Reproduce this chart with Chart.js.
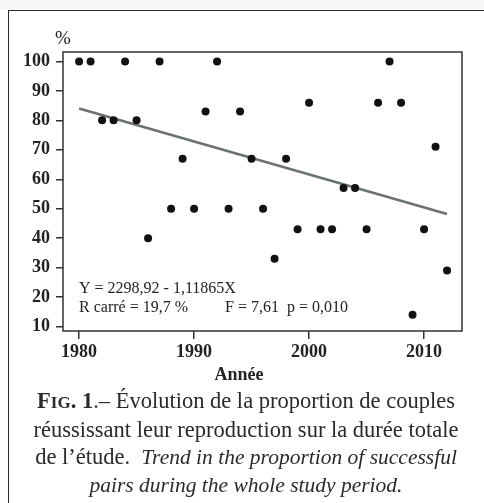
<!DOCTYPE html>
<html>
<head>
<meta charset="utf-8">
<script src="https://cdn.jsdelivr.net/npm/chart.js@4"></script>
<style>
  html, body { margin: 0; padding: 0; background: #fff; }
  body { width: 484px; height: 503px; position: relative; overflow: hidden; font-family: 'Liberation Serif', 'DejaVu Serif', serif; }
  #topstrip { position: absolute; left: 0; top: 0; width: 484px; height: 9px; background: #f6f6f6; }
  #frame { position: absolute; left: 8px; top: 10px; width: 500px; height: 520px; border: 1.5px solid #2a2a2a; box-sizing: border-box; }
  #c { position: absolute; left: 0; top: 0; }
  #caption { position: absolute; left: 9px; top: 387px; width: 474px; text-align: center; font-size: 22.5px; line-height: 27px; color: #2a2a2a; white-space: nowrap; }
  #caption i { font-size: 21.5px; }
  .sc { font-size: 17px; }
</style>
</head>
<body>
<div id="topstrip"></div>
<div id="frame"></div>
<canvas id="c" width="484" height="503"></canvas>
<div id="caption"><b>F<span class="sc">IG</span>. 1</b>.– Évolution de la proportion de couples<br>réussissant leur reproduction sur la durée totale<br>de l’étude.&nbsp; <i>Trend in the proportion of successful<br>pairs during the whole study period.</i></div>
<script>
// ---- data ----
const years = [1980,1981,1982,1983,1984,1985,1986,1987,1988,1989,1990,1991,1992,1993,1994,1995,1996,1997,1998,1999,2000,2001,2002,2003,2004,2005,2006,2007,2008,2009,2010,2011,2012];
const successPct = [100,100,80,80,100,80,40,100,50,67,50,83,100,50,83,67,50,33,67,43,86,43,43,57,57,43,86,100,86,14,43,71,29];
const fitYears = [1980, 2012];
const fitValues = [84.0, 48.2];
const yTicks = [10,20,30,40,50,60,70,80,90,100];
const xTicks = [1980,1990,2000,2010];
const yLabel = '%';
const xTitle = 'Année';
const annotLine1 = 'Y = 2298,92 - 1,11865X';
const annotLine2a = 'R carré = 19,7 %';
const annotLine2b = 'F = 7,61  p = 0,010';

const serif = "'Liberation Serif', 'DejaVu Serif', serif";
const axisColor = '#333';
const textColor = '#222';

const boxPlugin = {
  id: 'boxAndText',
  afterDraw(chart) {
    const { ctx, chartArea: a } = chart;
    ctx.save();
    ctx.strokeStyle = axisColor;
    ctx.lineWidth = 1.5;
    ctx.strokeRect(a.left, a.top, a.right - a.left, a.bottom - a.top);
    ctx.fillStyle = textColor;
    ctx.textBaseline = 'middle';
    ctx.font = '19px ' + serif;
    ctx.textAlign = 'center';
    ctx.fillText(yLabel, a.left, 39);
    ctx.font = 'bold 18px ' + serif;
    ctx.fillText(xTitle, 239, 375);
    ctx.font = '16px ' + serif;
    ctx.textAlign = 'left';
    ctx.fillText(annotLine1, a.left + 16, 289);
    ctx.fillText(annotLine2a, a.left + 16, 308);
    ctx.fillText(annotLine2b, a.left + 162, 308);
    ctx.restore();
  }
};

new Chart(document.getElementById('c'), {
  type: 'scatter',
  data: {
    datasets: [
      {
        type: 'scatter',
        data: years.map((y, i) => ({ x: y, y: successPct[i] })),
        backgroundColor: '#111',
        borderColor: '#111',
        pointRadius: 4,
        pointBorderWidth: 0,
        order: 0
      },
      {
        type: 'line',
        data: fitYears.map((y, i) => ({ x: y, y: fitValues[i] })),
        borderColor: '#6b7272',
        borderWidth: 2.5,
        pointRadius: 0,
        fill: false,
        order: 1
      }
    ]
  },
  options: {
    responsive: false,
    animation: false,
    layout: { padding: { left: 9, top: 52, right: 22, bottom: 132 } },
    plugins: { legend: { display: false }, tooltip: { enabled: false } },
    scales: {
      x: {
        type: 'linear',
        min: 1978.6,
        max: 2013.3,
        afterBuildTicks: s => { s.ticks = xTicks.map(v => ({ value: v })); },
        afterFit: s => { s.height = 40; },
        grid: { drawOnChartArea: false, drawTicks: true, tickLength: 8, tickColor: axisColor, lineWidth: 1.5 },
        border: { display: false },
        ticks: { color: textColor, font: { family: serif, size: 18, weight: 'bold' }, padding: 3, maxRotation: 0, callback: v => String(v) }
      },
      y: {
        type: 'linear',
        min: 8.5,
        max: 103.2,
        afterBuildTicks: s => { s.ticks = yTicks.map(v => ({ value: v })); },
        afterFit: s => { s.width = 54; },
        grid: { drawOnChartArea: false, drawTicks: true, tickLength: 7, tickColor: axisColor, lineWidth: 1.5 },
        border: { display: false },
        ticks: { color: textColor, font: { family: serif, size: 18, weight: 'bold' }, padding: 6 }
      }
    }
  },
  plugins: [boxPlugin]
});
</script>
</body>
</html>
